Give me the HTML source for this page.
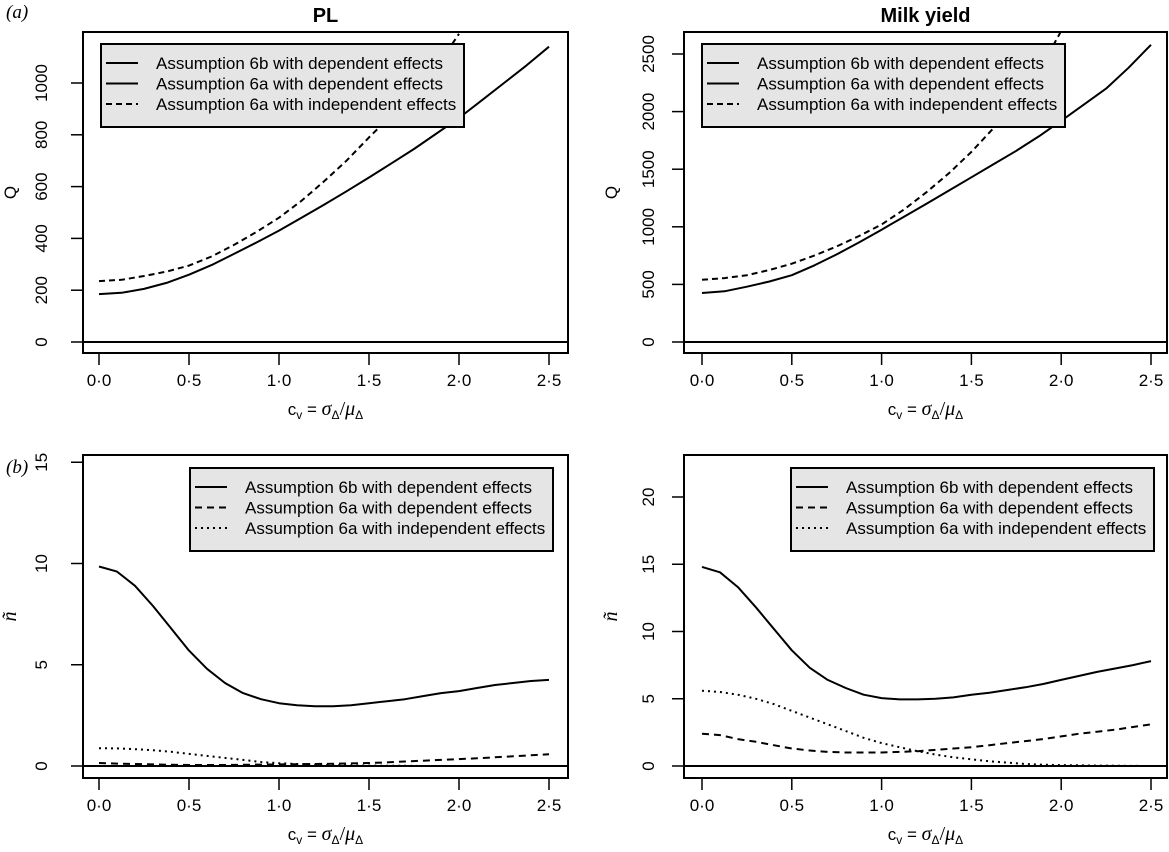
<!DOCTYPE html>
<html><head><meta charset="utf-8"><style>
body{margin:0;background:#fff;}
svg{display:block;font-family:"Liberation Sans",sans-serif;}
</style></head><body>
<svg id="fig" width="1169" height="852"></svg>
<script>
const xsQ=[0,0.125,0.25,0.375,0.5,0.625,0.75,0.875,1.0,1.125,1.25,1.375,1.5,1.625,1.75,1.875,2.0,2.125,2.25,2.375,2.5];
const plQ6b=[185,190,205,228,260,297,340,384,430,480,530,582,635,690,745,805,865,932,1000,1068,1140];
const plQ6aInd=[235,240,255,272,295,330,375,425,480,545,620,700,790,875,960,1060,1190];
const milkQ6b=[425,440,480,525,580,665,760,865,975,1088,1200,1315,1430,1545,1660,1785,1920,2060,2200,2380,2580];
const milkQ6aInd=[540,555,580,625,680,750,830,920,1020,1150,1300,1465,1650,1860,2090,2350,2700];
const xsN=[0,0.1,0.2,0.3,0.4,0.5,0.6,0.7,0.8,0.9,1.0,1.1,1.2,1.3,1.4,1.5,1.6,1.7,1.8,1.9,2.0,2.1,2.2,2.3,2.4,2.5];
const plN6b=[9.85,9.6,8.9,7.9,6.8,5.7,4.8,4.1,3.6,3.3,3.1,3.0,2.95,2.95,3.0,3.1,3.2,3.3,3.45,3.6,3.7,3.85,4.0,4.1,4.2,4.25];
const plN6aDep=[0.15,0.12,0.1,0.08,0.06,0.05,0.05,0.05,0.06,0.07,0.08,0.09,0.1,0.11,0.13,0.15,0.18,0.22,0.26,0.3,0.34,0.38,0.43,0.48,0.53,0.58];
const plN6aInd=[0.88,0.87,0.83,0.78,0.7,0.6,0.5,0.4,0.3,0.2,0.14,0.1,0.07,0.05,0.03,0.02,0.01,0.01,0,0];
const milkN6b=[14.8,14.4,13.3,11.8,10.2,8.6,7.3,6.4,5.8,5.3,5.05,4.95,4.95,5.0,5.1,5.3,5.45,5.65,5.85,6.1,6.4,6.7,7.0,7.25,7.5,7.8];
const milkN6aDep=[2.4,2.3,2.0,1.8,1.55,1.3,1.15,1.05,1.0,1.0,1.0,1.05,1.1,1.2,1.3,1.4,1.55,1.7,1.85,2.0,2.2,2.4,2.55,2.7,2.9,3.1];
const milkN6aInd=[5.6,5.5,5.3,5.0,4.6,4.1,3.6,3.1,2.6,2.1,1.7,1.4,1.1,0.85,0.65,0.5,0.35,0.25,0.15,0.1,0.07,0.05,0.03,0.02,0.01,0.0];
const xTicks=[0,0.5,1,1.5,2,2.5];
const xTickLabels=["0·0","0·5","1·0","1·5","2·0","2·5"];
const qTicksPL=[0,200,400,600,800,1000];
const qTicksMilk=[0,500,1000,1500,2000,2500];
const nTicksPL=[0,5,10,15];
const nTicksMilk=[0,5,10,15,20];

const NS="http://www.w3.org/2000/svg";
const svg=document.getElementById('fig');
function mk(tag,attrs,parent){const e=document.createElementNS(NS,tag);for(const k in attrs)e.setAttribute(k,attrs[k]);(parent||svg).appendChild(e);return e;}

function panel(o){
  const g=mk('g',{});
  
  
  const sx=v=>o.x0+(v-0)*(o.x25-o.x0)/2.5;
  const sy=v=>o.y0-(v)*o.py;
  const cid='clip-'+o.name;
  const cp=mk('clipPath',{id:cid},g);
  mk('rect',{x:o.bx1,y:o.by1,width:o.bx2-o.bx1,height:o.by2-o.by1},cp);
  const box=mk('rect',{x:o.bx1,y:o.by1,width:o.bx2-o.bx1,height:o.by2-o.by1,fill:'none',stroke:'#000','stroke-width':2},g);
  
  
  const zl=mk('line',{x1:o.bx1,x2:o.bx2,y1:sy(0),y2:sy(0),stroke:'#000','stroke-width':2},g);
  
  
  xTicks.forEach((t,i)=>{
    const l=mk('line',{x1:sx(t),x2:sx(t),y1:o.by2,y2:o.by2+12,stroke:'#000','stroke-width':1.5},g);
    
    
    const tx=mk('text',{x:sx(t),y:o.by2+33,'text-anchor':'middle','font-size':17},g);
    tx.textContent=xTickLabels[i];
    
    
  });
  o.yt.forEach(t=>{
    const y=sy(t);
    const l=mk('line',{x1:o.bx1-12,x2:o.bx1,y1:y,y2:y,stroke:'#000','stroke-width':1.5},g);
    
    
    const lx=o.bx1-o.lab;
    const tx=mk('text',{x:lx,y:y,'text-anchor':'middle','font-size':17,transform:`rotate(-90 ${lx} ${y})`},g);
    tx.textContent=t;
    
    
  });
  const xl=mk('text',{x:(o.bx1+o.bx2)/2,y:o.by2+62,'text-anchor':'middle','font-size':17},g);
  xl.innerHTML='c<tspan font-size="12" dy="4">v</tspan><tspan dy="-4"> = </tspan><tspan font-family="Liberation Serif" font-style="italic" font-size="20">σ</tspan><tspan font-size="12" dy="4">Δ</tspan><tspan dy="-4" font-family="Liberation Serif" font-size="20">/</tspan><tspan font-family="Liberation Serif" font-style="italic" font-size="20">μ</tspan><tspan font-size="12" dy="4">Δ</tspan>';
  
  
  const yx=o.bx1-67, yy=(o.by1+o.by2)/2;
  const yl=mk('text',{x:yx,y:yy,'text-anchor':'middle','font-size':o.ylab==='Q'?17:20,transform:`rotate(-90 ${yx} ${yy})`,'font-family':o.ylab==='Q'?'Liberation Sans':'Liberation Serif','font-style':o.ylab==='Q'?'normal':'italic'},g);
  yl.textContent=o.ylab;
  
  
  if(o.title){
    const tt=mk('text',{x:(o.bx1+o.bx2)/2,y:22,'text-anchor':'middle','font-size':20,'font-weight':'bold'},g);
    tt.textContent=o.title;
    
    
  }
  const cg=mk('g',{'clip-path':`url(#${cid})`},g);
  o.series.forEach(s=>{
    const pts=s.ys.map((v,i)=>sx(s.xs[i]).toFixed(1)+','+sy(v).toFixed(1)).join(' ');
    const p=mk('polyline',{points:pts,fill:'none',stroke:'#000','stroke-width':2,'stroke-dasharray':s.dash||'none','stroke-linejoin':'round'},cg);
    
    
  });
  const L=o.leg;
  const lg=mk('g',{},g);
  
  
  mk('rect',{x:L.x,y:L.y,width:363,height:83,fill:'#e5e5e5',stroke:'#000','stroke-width':2},lg);
  L.items.forEach((it,i)=>{
    const y=L.y+19+i*20.5;
    const l=mk('line',{x1:L.x+5,x2:L.x+37,y1:y,y2:y,stroke:'#000','stroke-width':2,'stroke-dasharray':it.dash||'none'},lg);
    
    
    const t=mk('text',{x:L.x+55,y:y+6,'font-size':17},lg);
    t.textContent=it.label;
    
    
  });
}
const lab1="Assumption 6b with dependent effects",lab2="Assumption 6a with dependent effects",lab3="Assumption 6a with independent effects";
const xsQi=xsQ.slice(0,17);
panel({name:'pl-q-panel',title:'PL',ylab:'Q',lab:36,bx1:83,bx2:568,by1:32,by2:353,x0:99,x25:549,y0:342,py:0.259,yt:qTicksPL,
 series:[{name:'line-6b-dependent',xs:xsQ,ys:plQ6b},{name:'line-6a-independent',xs:xsQi,ys:plQ6aInd,dash:'6,4'}],
 leg:{x:101,y:44,items:[{label:lab1},{label:lab2},{label:lab3,dash:'6,4'}]}});
panel({name:'milk-q-panel',title:'Milk yield',ylab:'Q',lab:30,bx1:684,bx2:1167,by1:32,by2:353,x0:702,x25:1151,y0:342,py:0.1152,yt:qTicksMilk,
 series:[{name:'line-6b-dependent',xs:xsQ,ys:milkQ6b},{name:'line-6a-independent',xs:xsQi,ys:milkQ6aInd,dash:'6,4'}],
 leg:{x:702,y:44,items:[{label:lab1},{label:lab2},{label:lab3,dash:'6,4'}]}});
panel({name:'pl-n-panel',ylab:'ñ',lab:36,bx1:83,bx2:568,by1:455,by2:778,x0:99,x25:549,y0:766,py:20.25,yt:nTicksPL,
 series:[{name:'line-6b-dependent',xs:xsN,ys:plN6b},{name:'line-6a-dependent',xs:xsN,ys:plN6aDep,dash:'7,5'},{name:'line-6a-independent',xs:xsN.slice(0,plN6aInd.length),ys:plN6aInd,dash:'2,4'}],
 leg:{x:190,y:468,items:[{label:lab1},{label:lab2,dash:'7,5'},{label:lab3,dash:'2,4'}]}});
panel({name:'milk-n-panel',ylab:'ñ',lab:30,bx1:684,bx2:1167,by1:455,by2:778,x0:702,x25:1151,y0:766,py:13.45,yt:nTicksMilk,
 series:[{name:'line-6b-dependent',xs:xsN,ys:milkN6b},{name:'line-6a-dependent',xs:xsN,ys:milkN6aDep,dash:'7,5'},{name:'line-6a-independent',xs:xsN,ys:milkN6aInd,dash:'2,4'}],
 leg:{x:791,y:468,items:[{label:lab1},{label:lab2,dash:'7,5'},{label:lab3,dash:'2,4'}]}});
[['(a)',18],['(b)',473]].forEach(([t,y])=>{
  const e=mk('text',{x:6,y:y,'font-size':19,'font-family':'Liberation Serif','font-style':'italic'});
  e.textContent=t;
  
  
});
</script>
</body></html>
